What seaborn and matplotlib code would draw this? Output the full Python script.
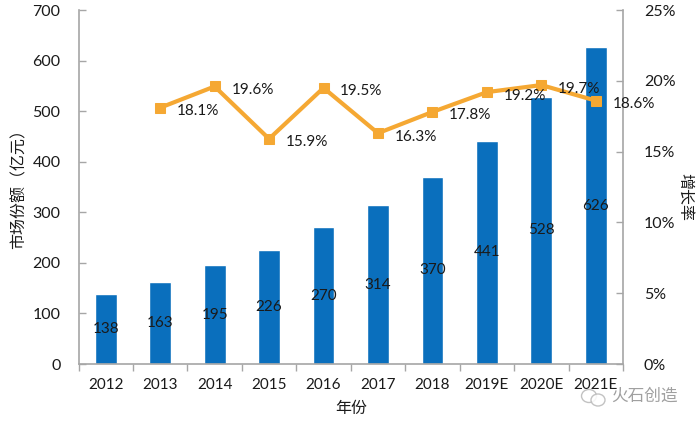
import numpy as np
import pandas as pd
import matplotlib.pyplot as plt
from matplotlib.patches import Ellipse
from matplotlib.ticker import FixedLocator, FuncFormatter
import seaborn as sns

# chart values
years = ['2012', '2013', '2014', '2015', '2016', '2017', '2018', '2019E', '2020E', '2021E']
market_share = [138, 163, 195, 226, 270, 314, 370, 441, 528, 626]
growth_years = ['2013', '2014', '2015', '2016', '2017', '2018', '2019E', '2020E', '2021E']
growth_rate = [18.1, 19.6, 15.9, 19.5, 16.3, 17.8, 19.2, 19.7, 18.6]

sns.set_theme(style='white')
plt.rcParams['font.family'] = ['Lato', 'Noto Sans CJK SC', 'DejaVu Sans']

BLUE = '#0a6fbd'
ORANGE = '#f5a833'
GRAY = '#a6a6a6'
TEXT = '#1a1a1a'

df_bar = pd.DataFrame({'year': years, 'share': market_share})
df_line = pd.DataFrame({'year': growth_years, 'rate': growth_rate})

fig = plt.figure(figsize=(7, 4.26), dpi=100)
ax = fig.add_axes([78.5 / 700, 1 - 364 / 426, (623 - 78.5) / 700, (364 - 10) / 426])

# bars
sns.barplot(data=df_bar, x='year', y='share', color=BLUE, saturation=1, width=0.4, ax=ax)
ax.set_xlim(-0.5, len(years) - 0.5)
ax.set_ylim(0, 700)
ax.bar_label(ax.containers[0], label_type='center', fontsize=11, color=TEXT)

# growth line on right axis
ax2 = ax.twinx()
sns.lineplot(data=df_line, x='year', y='rate', color=ORANGE, linewidth=3, sort=False,
             marker='s', markersize=7.5, markeredgecolor=ORANGE, ax=ax2)
ax2.set_ylim(0, 25)
ax2.yaxis.set_major_formatter(FuncFormatter(lambda v, pos: f'{v:.0f}%'))
for yr, rate in zip(growth_years, growth_rate):
    ax2.annotate(f'{rate}%', (years.index(yr), rate), xytext=(12, -2.5),
                 textcoords='offset points', ha='left', va='center',
                 fontsize=11, color=TEXT, annotation_clip=False)

# axis labels
ax.set_xlabel('年份', fontsize=11.5, color=TEXT)
ax.xaxis.set_label_coords(0.5, -0.107)
ax.set_ylabel('市场份额（亿元）', fontsize=11.5, color=TEXT)
ax.yaxis.set_label_coords(-0.096, 0.507)
ax2.set_ylabel('增长率', fontsize=11.5, color=TEXT, rotation=270, va='center')
ax2.yaxis.set_label_coords(1.113, 0.472)

# spines and ticks
for a in (ax, ax2):
    a.spines['top'].set_visible(False)
    for s in ('left', 'right', 'bottom'):
        a.spines[s].set_color(GRAY)
        a.spines[s].set_linewidth(1.2)
ax.spines['right'].set_visible(False)
ax2.spines['left'].set_visible(False)
ax2.spines['bottom'].set_visible(False)

ax.set_yticks(np.arange(0, 701, 100))
ax2.set_yticks(np.arange(0, 26, 5))
ax.tick_params(axis='y', left=True, direction='in', length=5, width=1, color=GRAY,
               labelsize=11.5, labelcolor=TEXT, pad=13)
ax2.tick_params(axis='y', right=True, direction='in', length=5, width=1, color=GRAY,
                labelsize=11.5, labelcolor=TEXT, pad=15)
ax.xaxis.set_minor_locator(FixedLocator(np.arange(len(years) + 1) - 0.5))
ax.tick_params(axis='x', which='minor', bottom=True, direction='out', length=5, width=1, color=GRAY)
ax.tick_params(axis='x', which='major', length=0, labelsize=11, labelcolor=TEXT, pad=10)

# watermark
px_w, px_h = 700, 426
for cx, cy, w, h in [(589, 396, 15, 13), (598, 400, 14, 12)]:
    fig.add_artist(Ellipse((cx / px_w, 1 - cy / px_h), w / px_w, h / px_h, transform=fig.transFigure,
                           facecolor='white', edgecolor='#b8b8b8', linewidth=1, alpha=0.85, zorder=5))
fig.text(644 / px_w, 1 - 396 / px_h, '火石创造', fontsize=12, color='#a0a0a0',
         ha='center', va='center', zorder=6)

plt.savefig('out.png', dpi=100)
plt.close()
